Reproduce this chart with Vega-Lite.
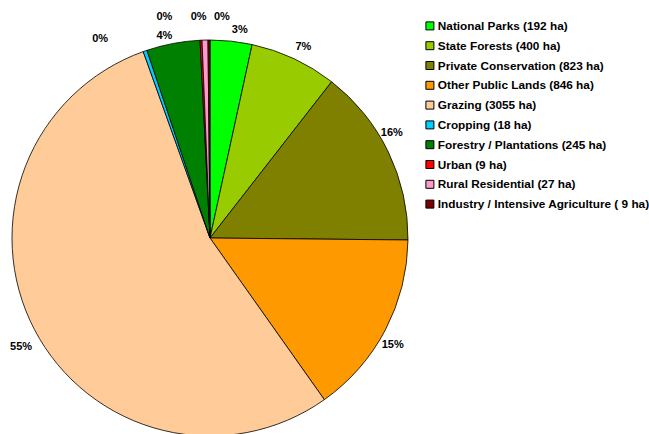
{
  "$schema": "https://vega.github.io/schema/vega-lite/v6.json",
  "width": 420,
  "height": 392,
  "autosize": "none",
  "padding": {"left": 0, "top": 42, "right": 229, "bottom": 0},
  "background": "white",
  "config": {"view": {"stroke": null}, "font": "Liberation Sans"},
  "data": {
    "values": [
      {"i": 1, "use": "National Parks (192 ha)", "ha": 192, "pct": "3%"},
      {"i": 2, "use": "State Forests (400 ha)", "ha": 400, "pct": "7%"},
      {"i": 3, "use": "Private Conservation (823 ha)", "ha": 823, "pct": "16%"},
      {"i": 4, "use": "Other Public Lands (846 ha)", "ha": 846, "pct": "15%"},
      {"i": 5, "use": "Grazing (3055 ha)", "ha": 3055, "pct": "55%"},
      {"i": 6, "use": "Cropping (18 ha)", "ha": 18, "pct": "0%"},
      {"i": 7, "use": "Forestry / Plantations (245 ha)", "ha": 245, "pct": "4%"},
      {"i": 8, "use": "Urban (9 ha)", "ha": 9, "pct": "0%"},
      {"i": 9, "use": "Rural Residential (27 ha)", "ha": 27, "pct": "0%"},
      {"i": 10, "use": "Industry / Intensive Agriculture ( 9 ha)", "ha": 9, "pct": "0%"}
    ]
  },
  "encoding": {
    "theta": {"field": "ha", "type": "quantitative", "stack": true},
    "order": {"field": "i", "type": "quantitative"},
    "color": {
      "field": "use",
      "type": "nominal",
      "scale": {
        "domain": ["National Parks (192 ha)", "State Forests (400 ha)", "Private Conservation (823 ha)", "Other Public Lands (846 ha)", "Grazing (3055 ha)", "Cropping (18 ha)", "Forestry / Plantations (245 ha)", "Urban (9 ha)", "Rural Residential (27 ha)", "Industry / Intensive Agriculture ( 9 ha)"],
        "range": ["#00FF00", "#99CC00", "#808000", "#FF9900", "#FFCC99", "#00CCFF", "#008000", "#FF0000", "#FF99CC", "#800000"]
      },
      "legend": {
        "title": null,
        "orient": "none",
        "legendX": 424,
        "legendY": -22,
        "symbolType": "square",
        "symbolSize": 64,
        "symbolStrokeColor": "black",
        "symbolStrokeWidth": 1,
        "symbolOpacity": 1,
        "labelFont": "Liberation Sans",
        "labelFontSize": 11.8,
        "labelFontWeight": "bold",
        "labelColor": "black",
        "labelLimit": 300,
        "rowPadding": 5.8,
        "symbolOffset": 0,
        "labelOffset": 2
      }
    }
  },
  "layer": [
    {"mark": {"type": "arc", "outerRadius": 198, "stroke": "black", "strokeWidth": 0.8}},
    {"mark": {"type": "text", "radius": 213, "dx": 7, "dy": 4, "fontSize": 11, "fontWeight": "bold", "align": "center", "baseline": "middle"}, "encoding": {"text": {"condition": {"test": "datum.i == 1", "field": "pct"}, "value": ""}, "color": {"value": "black"}}},
    {"mark": {"type": "text", "radius": 213, "dx": 3, "dy": 2, "fontSize": 11, "fontWeight": "bold", "align": "center", "baseline": "middle"}, "encoding": {"text": {"condition": {"test": "datum.i == 2", "field": "pct"}, "value": ""}, "color": {"value": "black"}}},
    {"mark": {"type": "text", "radius": 213, "dx": -10, "dy": -12, "fontSize": 11, "fontWeight": "bold", "align": "center", "baseline": "middle"}, "encoding": {"text": {"condition": {"test": "datum.i == 3", "field": "pct"}, "value": ""}, "color": {"value": "black"}}},
    {"mark": {"type": "text", "radius": 213, "dx": -6, "dy": 8, "fontSize": 11, "fontWeight": "bold", "align": "center", "baseline": "middle"}, "encoding": {"text": {"condition": {"test": "datum.i == 4", "field": "pct"}, "value": ""}, "color": {"value": "black"}}},
    {"mark": {"type": "text", "radius": 213, "dx": 0, "dy": 11, "fontSize": 11, "fontWeight": "bold", "align": "center", "baseline": "middle"}, "encoding": {"text": {"condition": {"test": "datum.i == 5", "field": "pct"}, "value": ""}, "color": {"value": "black"}}},
    {"mark": {"type": "text", "radius": 213, "dx": -40, "dy": 2, "fontSize": 11, "fontWeight": "bold", "align": "center", "baseline": "middle"}, "encoding": {"text": {"condition": {"test": "datum.i == 6", "field": "pct"}, "value": ""}, "color": {"value": "black"}}},
    {"mark": {"type": "text", "radius": 213, "dx": -6, "dy": 7, "fontSize": 11, "fontWeight": "bold", "align": "center", "baseline": "middle"}, "encoding": {"text": {"condition": {"test": "datum.i == 7", "field": "pct"}, "value": ""}, "color": {"value": "black"}}},
    {"mark": {"type": "text", "radius": 213, "dx": -36, "dy": -8, "fontSize": 11, "fontWeight": "bold", "align": "center", "baseline": "middle"}, "encoding": {"text": {"condition": {"test": "datum.i == 8", "field": "pct"}, "value": ""}, "color": {"value": "black"}}},
    {"mark": {"type": "text", "radius": 213, "dx": -6, "dy": -8, "fontSize": 11, "fontWeight": "bold", "align": "center", "baseline": "middle"}, "encoding": {"text": {"condition": {"test": "datum.i == 9", "field": "pct"}, "value": ""}, "color": {"value": "black"}}},
    {"mark": {"type": "text", "radius": 213, "dx": 13, "dy": -8, "fontSize": 11, "fontWeight": "bold", "align": "center", "baseline": "middle"}, "encoding": {"text": {"condition": {"test": "datum.i == 10", "field": "pct"}, "value": ""}, "color": {"value": "black"}}}
  ]
}
